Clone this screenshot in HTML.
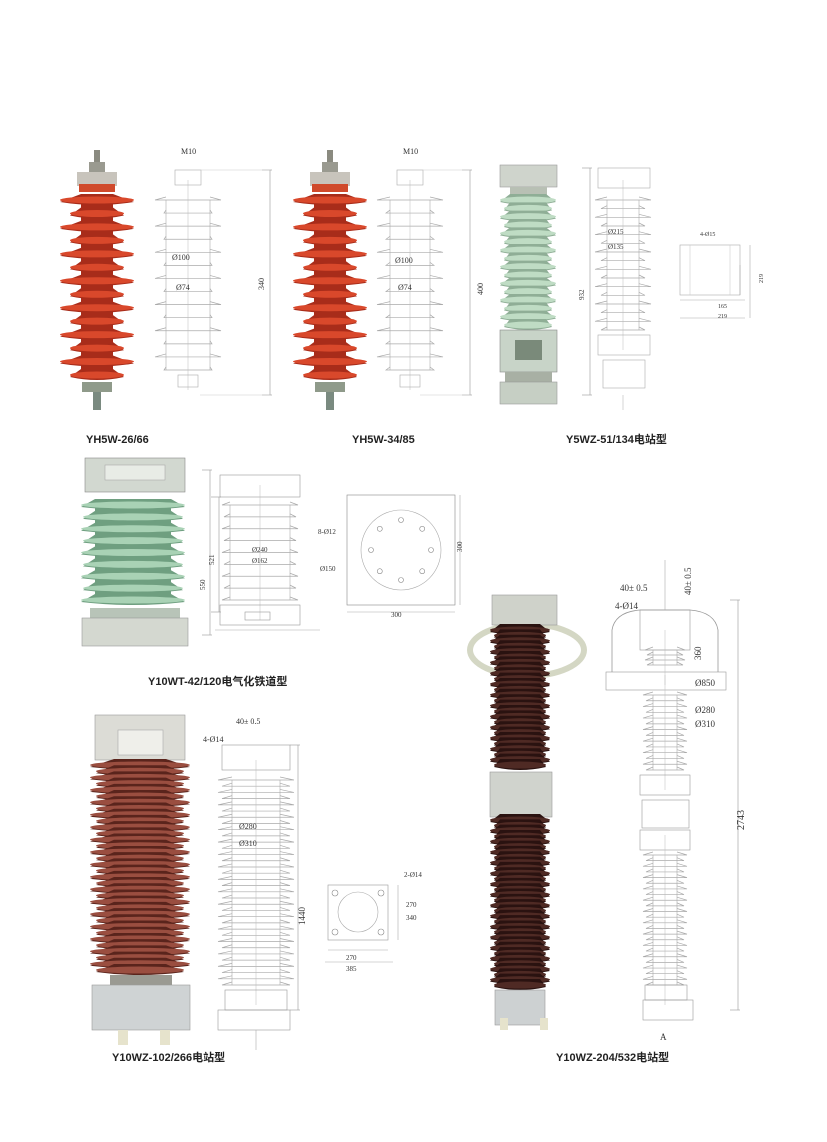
<!DOCTYPE html>
<html><head><meta charset="utf-8"><style>
html,body{margin:0;padding:0;background:#fff}
svg{display:block}
text{font-family:"Liberation Serif","Noto Serif CJK SC",serif;fill:#333}
.lb{font-family:"Liberation Sans","Noto Sans CJK SC",sans-serif;font-weight:bold;font-size:11px;fill:#222}
</style></head><body>
<svg id="s" width="827" height="1142" viewBox="0 0 827 1142" xmlns="http://www.w3.org/2000/svg">
<g id="g"></g>
<text class="lb" x="86" y="443">YH5W-26/66</text>
<text class="lb" x="352" y="443">YH5W-34/85</text>
<text class="lb" x="566" y="443">Y5WZ-51/134电站型</text>
<text class="lb" x="148" y="685">Y10WT-42/120电气化铁道型</text>
<text class="lb" x="112" y="1061">Y10WZ-102/266电站型</text>
<text class="lb" x="556" y="1061">Y10WZ-204/532电站型</text>
<text x="181" y="154" font-size="8">M10</text>
<text x="172" y="260" font-size="8">Ø100</text>
<text x="176" y="290" font-size="8">Ø74</text>
<text x="264" y="290" font-size="8" transform="rotate(-90 264 290)">340</text>
<text x="403" y="154" font-size="8">M10</text>
<text x="395" y="263" font-size="8">Ø100</text>
<text x="398" y="290" font-size="8">Ø74</text>
<text x="483" y="295" font-size="8" transform="rotate(-90 483 295)">400</text>
<text x="608" y="234" font-size="7">Ø215</text>
<text x="608" y="249" font-size="7">Ø135</text>
<text x="584" y="300" font-size="7" transform="rotate(-90 584 300)">932</text>
<text x="700" y="236" font-size="6">4-Ø15</text>
<text x="718" y="308" font-size="6">165</text>
<text x="718" y="318" font-size="6">219</text>
<text x="763" y="283" font-size="6" transform="rotate(-90 763 283)">219</text>
<text x="205" y="590" font-size="7" transform="rotate(-90 205 590)">550</text>
<text x="214" y="565" font-size="7" transform="rotate(-90 214 565)">521</text>
<text x="252" y="552" font-size="7">Ø240</text>
<text x="252" y="563" font-size="7">Ø162</text>
<text x="318" y="534" font-size="7">8-Ø12</text>
<text x="320" y="571" font-size="7">Ø150</text>
<text x="391" y="617" font-size="7">300</text>
<text x="462" y="552" font-size="7" transform="rotate(-90 462 552)">300</text>
<text x="236" y="724" font-size="8">40± 0.5</text>
<text x="203" y="742" font-size="8">4-Ø14</text>
<text x="239" y="829" font-size="8">Ø280</text>
<text x="239" y="846" font-size="8">Ø310</text>
<text x="305" y="925" font-size="9" transform="rotate(-90 305 925)">1440</text>
<text x="404" y="877" font-size="7">2-Ø14</text>
<text x="406" y="907" font-size="7">270</text>
<text x="406" y="920" font-size="7">340</text>
<text x="346" y="960" font-size="7">270</text>
<text x="346" y="971" font-size="7">385</text>
<text x="620" y="591" font-size="9">40± 0.5</text>
<text x="615" y="609" font-size="9">4-Ø14</text>
<text x="691" y="595" font-size="9" transform="rotate(-90 691 595)">40± 0.5</text>
<text x="701" y="660" font-size="9" transform="rotate(-90 701 660)">360</text>
<text x="695" y="686" font-size="9">Ø850</text>
<text x="695" y="713" font-size="9">Ø280</text>
<text x="695" y="727" font-size="9">Ø310</text>
<text x="744" y="830" font-size="10" transform="rotate(-90 744 830)">2743</text>
<text x="660" y="1040" font-size="9">A</text>
</svg>
<script>
var g=document.getElementById('g'),NS='http://www.w3.org/2000/svg';
function el(t,a){var e=document.createElementNS(NS,t);for(var k in a)e.setAttribute(k,a[k]);g.appendChild(e);return e;}
function rect(x,y,w,h,f,s){return el('rect',{x:x,y:y,width:w,height:h,fill:f,stroke:s||'none','stroke-width':0.6});}
function ell(cx,cy,rx,ry,f,s){return el('ellipse',{cx:cx,cy:cy,rx:rx,ry:ry,fill:f,stroke:s||'none','stroke-width':0.6});}
function line(x1,y1,x2,y2,c,w){return el('line',{x1:x1,y1:y1,x2:x2,y2:y2,stroke:c||'#999','stroke-width':w||0.6});}
function sheds(cx,y0,y1,n,rb,rs,core,col,dark){
 rect(cx-core,y0,core*2,y1-y0,dark);
 for(var i=0;i<n;i++){var y=y0+(y1-y0)*i/(n-1);var r=(i%2==0)?rb:rs;
  el('path',{d:'M'+(cx-core)+' '+(y-6)+' L'+(cx-r)+' '+(y+2)+' Q'+cx+' '+(y+8)+' '+(cx+r)+' '+(y+2)+' L'+(cx+core)+' '+(y-6)+'Z',fill:dark});
  ell(cx,y,r,3.5,col);}
}
function dsheds(cx,y0,y1,n,rb,rs,core){
 line(cx-core,y0,cx-core,y1,'#aaa');line(cx+core,y0,cx+core,y1,'#aaa');
 for(var i=0;i<n;i++){var y=y0+(y1-y0)*i/(n-1);var r=(i%2==0)?rb:rs;
  el('path',{d:'M'+(cx-core)+' '+(y-3)+' L'+(cx-r)+' '+y+' L'+(cx+r)+' '+y+' L'+(cx+core)+' '+(y-3),fill:'none',stroke:'#aaa','stroke-width':0.7});}
 line(cx,y0-20,cx,y1+20,'#bbb',0.5);
}
function vdim(x,y0,y1){line(x,y0,x,y1,'#999');line(x-8,y0,x+2,y0,'#999');line(x-8,y1,x+2,y1,'#999');}
function red(cx,top,bot){
 rect(cx-3,top,6,15,'#8a8a80');rect(cx-8,top+12,16,10,'#9a9a90');
 rect(cx-20,top+22,40,14,'#c8c4bc');rect(cx-18,top+34,36,8,'#d04a2c');
 sheds(cx,top+50,bot-25,14,37,27,16,'#d9482b','#a82c1a');
 rect(cx-15,bot-18,30,10,'#8f9a8a');rect(cx-4,bot-8,8,18,'#7a8a80');
}
red(97,150,400);red(330,150,400);
rect(175,170,26,15,'none','#aaa');dsheds(188,200,370,14,33,24,22);rect(178,375,20,12,'none','#aaa');
vdim(270,170,395);line(200,170,270,170,'#ccc');line(200,395,270,395,'#ccc');
rect(397,170,26,15,'none','#aaa');dsheds(410,200,370,14,33,24,20);rect(400,375,20,12,'none','#aaa');
vdim(470,170,395);line(420,170,470,170,'#ccc');line(420,395,470,395,'#ccc');
rect(500,165,57,22,'#cfd4cc','#999');rect(510,187,37,10,'#b8c0b4');
sheds(528,200,325,16,28,24,18,'#bfdcc4','#8fae96');
rect(500,330,57,42,'#c8d4c8','#888');rect(515,340,27,20,'#7a8a7a');
rect(505,372,47,10,'#a8b0a4');rect(500,382,57,22,'#c6cfc4','#999');
rect(598,168,52,20,'none','#aaa');dsheds(623,200,330,16,28,22,16);
rect(598,335,52,20,'none','#aaa');rect(603,360,42,28,'none','#aaa');
vdim(590,168,395);line(623,395,623,410,'#bbb');
rect(680,245,60,50,'none','#aaa');line(690,245,690,295,'#ccc');line(730,245,730,295,'#ccc');
line(680,300,745,300,'#aaa');line(680,318,745,318,'#aaa');line(750,245,750,318,'#aaa');line(740,265,740,295,'#aaa');
rect(85,458,100,34,'#d2d8d0','#888');rect(105,465,60,15,'#e8ece6','#aaa');
sheds(133,505,600,9,52,50,38,'#a9d2b5','#6f9f80');
rect(90,608,90,10,'#b8c4b8');rect(82,618,106,28,'#d4d8d0','#999');
rect(220,475,80,22,'none','#999');dsheds(260,505,600,9,38,36,30);
rect(220,605,80,20,'none','#999');rect(245,612,25,8,'none','#999');
line(215,630,320,630,'#aaa');vdim(210,470,635);vdim(219,497,612);
rect(347,495,108,110,'none','#888');ell(401,550,40,40,'none','#aaa');
for(var i=0;i<8;i++){var a=i*Math.PI/4;ell(401+30*Math.cos(a),550+30*Math.sin(a),2.5,2.5,'none','#888');}
line(347,612,455,612,'#aaa');line(460,495,460,605,'#aaa');
rect(95,715,90,45,'#dcdcd6','#999');rect(118,730,45,25,'#efefea','#aaa');
sheds(140,765,970,34,50,44,26,'#9a4e40','#5a241c');
rect(110,975,62,12,'#9a9a92');rect(92,985,98,45,'#cfd3d4','#999');
rect(118,1030,10,15,'#e6e3cc');rect(160,1030,10,15,'#e6e3cc');
rect(222,745,68,25,'none','#999');dsheds(256,780,985,34,38,34,24);
rect(225,990,62,20,'none','#999');rect(218,1010,72,20,'none','#999');
vdim(298,745,1010);line(256,1030,256,1050,'#aaa');
rect(328,885,60,55,'none','#999');ell(358,912,20,20,'none','#aaa');
[[335,893],[381,893],[335,932],[381,932]].forEach(function(p){ell(p[0],p[1],3,3,'none','#888');});
line(328,950,388,950,'#aaa');line(325,962,393,962,'#aaa');line(398,885,398,940,'#aaa');
var rg=ell(527,650,57,26,'none','#d4d7c4');rg.setAttribute('stroke-width',6);
rect(492,595,65,30,'#cfd2ca','#999');
sheds(520,630,765,26,30,26,20,'#4f2a24','#2a1210');
rect(490,772,62,45,'#d0d3cd','#999');
sheds(520,820,985,32,30,26,20,'#4f2a24','#2a1210');
rect(495,990,50,35,'#cdd1d2','#999');rect(500,1018,8,12,'#e6e3cc');rect(540,1018,8,12,'#e6e3cc');
el('path',{d:'M612 672 L612 630 Q615 612 640 610 L690 610 Q715 612 718 630 L718 672',fill:'none',stroke:'#999','stroke-width':0.8});
rect(606,672,120,18,'none','#999');rect(640,610,50,40,'none','#999');
dsheds(665,650,665,4,20,18,12);
dsheds(665,695,770,14,22,19,12);
rect(640,775,50,20,'none','#999');rect(642,800,47,28,'none','#999');rect(640,830,50,20,'none','#999');
dsheds(665,855,985,24,22,19,12);
rect(645,985,42,15,'none','#999');rect(643,1000,50,20,'none','#999');
vdim(738,600,1010);line(665,560,665,610,'#aaa');
</script>
</body></html>
